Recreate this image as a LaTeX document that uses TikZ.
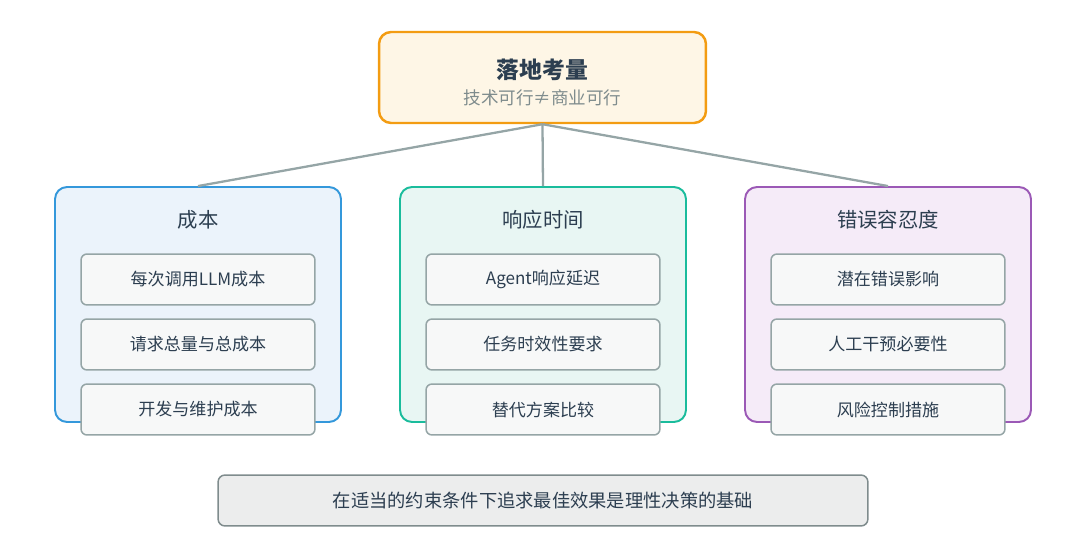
\documentclass[tikz,border=0pt]{standalone}
\usepackage{fontspec}
\setmainfont{Noto Sans CJK SC}
\usetikzlibrary{positioning}
\definecolor{ink}{HTML}{2C3E50}
\definecolor{subink}{HTML}{7F8C8D}
\definecolor{linkgray}{HTML}{95A5A6}
\definecolor{topline}{HTML}{F39C12}
\definecolor{topfill}{HTML}{FEF6E6}
\definecolor{costline}{HTML}{3498DB}
\definecolor{costfill}{HTML}{EBF3FB}
\definecolor{timeline}{HTML}{1ABC9C}
\definecolor{timefill}{HTML}{E8F6F3}
\definecolor{riskline}{HTML}{9B59B6}
\definecolor{riskfill}{HTML}{F5EBF8}
\definecolor{itemline}{HTML}{95A5A6}
\definecolor{itemfill}{HTML}{F7F8F8}
\definecolor{basefill}{HTML}{ECEDED}
\definecolor{baseline}{HTML}{7F8C8D}
\tikzset{
    topbox/.style={draw=topline, fill=topfill, line width=1.4pt,
                   rounded corners=0.24cm, minimum width=6.54cm, minimum height=1.82cm},
    panel/.style={draw, line width=1.1pt, rounded corners=0.24cm,
                  minimum width=5.72cm, minimum height=4.7cm},
    heading/.style={text=ink, font=\fontsize{11.6}{14}\selectfont},
    item/.style={draw=itemline, fill=itemfill, line width=0.85pt, rounded corners=0.12cm,
                 minimum width=4.68cm, minimum height=1.02cm, text=ink,
                 font=\fontsize{9.7}{12}\selectfont},
    basebox/.style={draw=baseline, fill=basefill, line width=0.85pt, rounded corners=0.14cm,
                    minimum width=13cm, minimum height=1.02cm, text=ink,
                    font=\fontsize{10.4}{12}\selectfont},
    link/.style={draw=linkgray, line width=1.3pt},
}
\begin{document}
\begin{tikzpicture}[x=0.02cm, y=-0.02cm]

    \useasboundingbox (0,0) rectangle (1080,554);

    % top box
    \node[topbox] (top) at (542.5,77.5) {};
    \node[text=ink, font=\fontsize{13}{15}\selectfont\bfseries] (toptitle) at (542.5,70) {落地考量};
    \node[text=subink, font=\fontsize{10}{12}\selectfont] (topsub) at (542.5,98) {技术可行≠商业可行};

    % three panels
    \node[panel, draw=costline, fill=costfill] (cost) at (198,304.5) {};
    \node[panel, draw=timeline, fill=timefill] (time) at (543,304.5) {};
    \node[panel, draw=riskline, fill=riskfill] (risk) at (888,304.5) {};

    \draw[link] (top.south) -- (cost.north);
    \draw[link] (top.south) -- (time.north);
    \draw[link] (top.south) -- (risk.north);

    \node[heading] (costtitle) at (198,220) {成本};
    \node[heading] (timetitle) at (543,220) {响应时间};
    \node[heading] (risktitle) at (888,220) {错误容忍度};

    \node[item] (cost1) at (198,279.5) {每次调用LLM成本};
    \node[item] (cost2) at (198,344.5) {请求总量与总成本};
    \node[item] (cost3) at (198,409.5) {开发与维护成本};

    \node[item] (time1) at (543,279.5) {Agent响应延迟};
    \node[item] (time2) at (543,344.5) {任务时效性要求};
    \node[item] (time3) at (543,409.5) {替代方案比较};

    \node[item] (risk1) at (888,279.5) {潜在错误影响};
    \node[item] (risk2) at (888,344.5) {人工干预必要性};
    \node[item] (risk3) at (888,409.5) {风险控制措施};

    % conclusion
    \node[basebox] (base) at (543,500.5) {在适当的约束条件下追求最佳效果是理性决策的基础};

\end{tikzpicture}
\end{document}
